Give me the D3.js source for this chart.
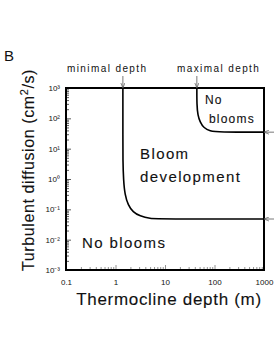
<!DOCTYPE html>
<html>
<head>
<meta charset="utf-8">
<script src="https://cdn.jsdelivr.net/npm/d3@7"></script>
<style>
  body { margin: 0; background: #fff; }
  text { font-family: "Liberation Sans", Arial, sans-serif; fill: #111; }
  .heavy { stroke: #111; stroke-width: 0.12; }
</style>
</head>
<body>
<script>
// SVG size
var width = 274,
    height = 354;

// Axis ticks
var depthTicks = [0.1, 1, 10, 100, 1000];
var diffTicks = [0.001, 0.01, 0.1, 1, 10, 100, 1000];
var diffTickLabels = ["10\u207B\u00B3", "10\u207B\u00B2", "10\u207B\u00B9", "10\u2070", "10\u00B9", "10\u00B2", "10\u00B3"];

// Minimal depth boundary (depth m, diffusion cm2/s)
var minDepth = [1.41, 1.41, 1.41, 1.45, 1.55, 1.8, 2.26, 3.1, 5.0, 7.9, 1000];
var minDiff  = [1000, 20, 4.2, 0.92, 0.30, 0.138, 0.081, 0.060, 0.049, 0.048, 0.048];

// Maximal depth boundary
var maxDepth = [44, 44, 46, 51, 61, 81, 117, 1000];
var maxDiff  = [1000, 275, 128, 76, 48, 38, 35, 35];

var svg = d3.select("body").append("svg")
  .attr("width", width)
  .attr("height", height);

var pLeft = 66, pRight = 264, pTop = 88, pBottom = 270;

var x = d3.scaleLog().domain([0.1, 1000]).range([pLeft, pRight]);
var y = d3.scaleLog().domain([0.001, 1000]).range([pBottom, pTop]);

// Minor tick values per decade
function minorTicks(lo, hi) {
  var out = [];
  for (var e = Math.round(Math.log10(lo)); e < Math.round(Math.log10(hi)); e++) {
    for (var k = 1; k < 10; k++) out.push(k * Math.pow(10, e));
  }
  out.push(hi);
  return out;
}

function isMajor(list, d) {
  return list.some(function(t) { return Math.abs(t - d) / t < 1e-6; });
}

// Y axis (ticks inside)
var yAxis = d3.axisLeft(y)
  .tickValues(minorTicks(0.001, 1000))
  .tickSize(-3)
  .tickPadding(6)
  .tickFormat(function(d) {
    var i = diffTicks.findIndex(function(t) { return Math.abs(t - d) / t < 1e-6; });
    return i >= 0 ? diffTickLabels[i] : "";
  });

var gy = svg.append("g")
  .attr("transform", "translate(" + pLeft + ",0)")
  .call(yAxis);
gy.select(".domain").remove();
gy.selectAll("line").attr("stroke", "#333").attr("stroke-width", 0.8);
gy.selectAll(".tick").filter(function(d) { return isMajor(diffTicks, d); })
  .select("line").attr("x2", 5);
gy.selectAll("text").attr("font-size", 8).attr("fill", "#222");

// X axis (ticks inside, lighter)
var xAxis = d3.axisBottom(x)
  .tickValues(minorTicks(0.1, 1000))
  .tickSize(-3)
  .tickPadding(9)
  .tickFormat(function(d) {
    return isMajor(depthTicks, d) ? d3.format("~g")(d) : "";
  });

var gx = svg.append("g")
  .attr("transform", "translate(0," + pBottom + ")")
  .call(xAxis);
gx.select(".domain").remove();
gx.selectAll("line").attr("stroke", "#777").attr("stroke-width", 0.8);
gx.selectAll(".tick").filter(function(d) { return isMajor(depthTicks, d); })
  .select("line").attr("y2", -5);
gx.selectAll("text").attr("font-size", 8).attr("fill", "#222");

// Frame
svg.append("rect")
  .attr("x", pLeft).attr("y", pTop)
  .attr("width", pRight - pLeft).attr("height", pBottom - pTop)
  .attr("fill", "none").attr("stroke", "#000").attr("stroke-width", 2);

// Boundary curves
function drawCurve(ds, vs) {
  var pts = ds.map(function(d, i) { return [d, vs[i]]; });
  svg.append("path")
    .attr("d", d3.line()
      .x(function(d) { return x(d[0]); })
      .y(function(d) { return y(d[1]); })
      .curve(d3.curveBasis)(pts))
    .attr("fill", "none")
    .attr("stroke", "#000")
    .attr("stroke-width", 1.6);
}
drawCurve(minDepth, minDiff);
drawCurve(maxDepth, maxDiff);

// Arrows
svg.append("defs").append("marker")
  .attr("id", "arr")
  .attr("viewBox", "0 0 10 10")
  .attr("refX", 10).attr("refY", 5)
  .attr("markerWidth", 5).attr("markerHeight", 5)
  .attr("markerUnits", "userSpaceOnUse")
  .attr("orient", "auto")
  .append("path")
    .attr("d", "M0,1 L10,5 L0,9")
    .attr("fill", "none")
    .attr("stroke", "#555")
    .attr("stroke-width", 1.4);

function arrow(x1, y1, x2, y2) {
  svg.append("line")
    .attr("x1", x1).attr("y1", y1).attr("x2", x2).attr("y2", y2)
    .attr("stroke", "#555").attr("stroke-width", 0.8)
    .attr("marker-end", "url(#arr)");
}
arrow(x(minDepth[0]), 76, x(minDepth[0]), pTop);
arrow(x(maxDepth[0]), 76, x(maxDepth[0]), pTop);
arrow(width, y(maxDiff[maxDiff.length - 1]), pRight, y(maxDiff[maxDiff.length - 1]));
arrow(width, y(minDiff[minDiff.length - 1]), pRight, y(minDiff[minDiff.length - 1]));

// Top labels
svg.append("text").attr("x", 67).attr("y", 72)
  .attr("font-size", 10).attr("letter-spacing", 1.4)
  .text("minimal  depth");
svg.append("text").attr("x", 177).attr("y", 72)
  .attr("font-size", 10).attr("letter-spacing", 1.4)
  .text("maximal  depth");

// Panel letter
svg.append("text").attr("x", 4).attr("y", 61)
  .attr("font-size", 15).text("B");

// Region labels
function label(tx, ty, s, fs, ls) {
  svg.append("text").attr("class", "heavy")
    .attr("x", tx).attr("y", ty)
    .attr("font-size", fs).attr("letter-spacing", ls).text(s);
}
label(205, 104, "No", 12, 1.2);
label(209, 123, "blooms", 12, 1.2);
label(140, 159, "Bloom", 15, 1.4);
label(140, 182, "development", 15, 1.4);
label(82, 248, "No blooms", 15, 1.4);

// Axis titles
svg.append("text").attr("class", "heavy")
  .attr("x", 169).attr("y", 305)
  .attr("text-anchor", "middle")
  .attr("font-size", 17).attr("letter-spacing", 0.7)
  .text("Thermocline depth (m)");

svg.append("text").attr("class", "heavy")
  .attr("transform", "translate(34,170) rotate(-90)")
  .attr("text-anchor", "middle")
  .attr("font-size", 16).attr("letter-spacing", 0.6)
  .html("Turbulent diffusion (cm<tspan dy='-6' font-size='11'>2</tspan><tspan dy='6'>/s)</tspan>");
</script>
</body>
</html>
